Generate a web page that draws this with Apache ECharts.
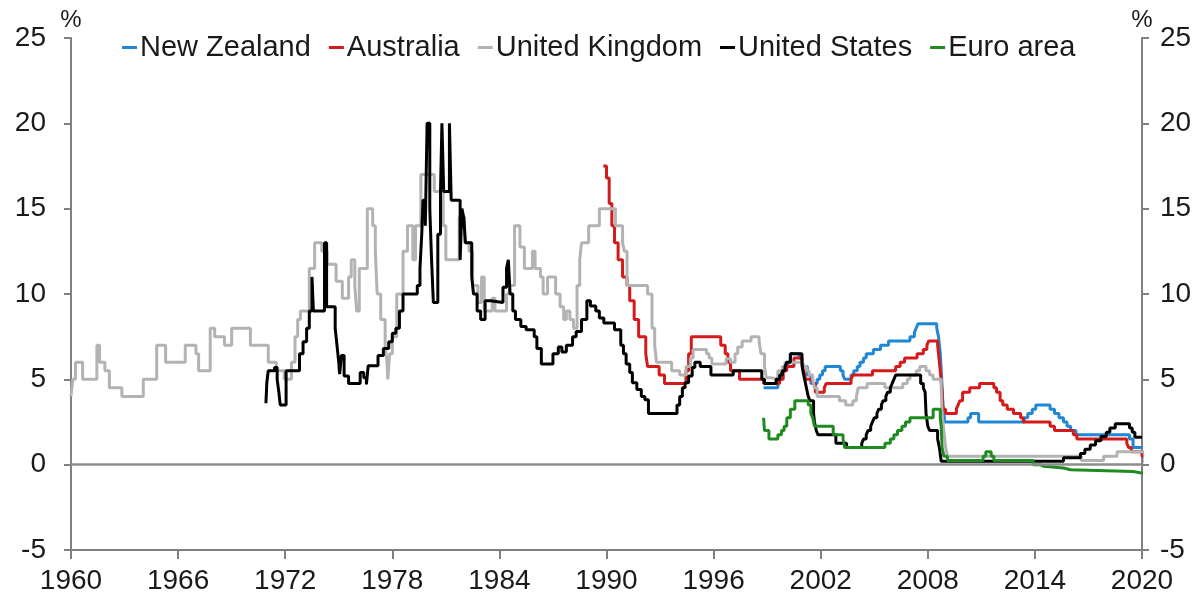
<!DOCTYPE html>
<html>
<head>
<meta charset="utf-8">
<script src="https://cdn.jsdelivr.net/npm/echarts@6/dist/echarts.min.js"></script>
<style>
html,body{margin:0;padding:0;background:#fff;}
#chart{width:1201px;height:601px;}
</style>
</head>
<body>
<div id="chart"></div>
<script>
// ---- Data: [year, policy rate %] change points (value holds until next point) ----
const seriesNames = ['New Zealand', 'Australia', 'United Kingdom', 'United States', 'Euro area'];
const xTicks = [1960, 1966, 1972, 1978, 1984, 1990, 1996, 2002, 2008, 2014, 2020];
const yTicks = [-5, 0, 5, 10, 15, 20, 25];

const newZealand = [
  [1998.8,4.5],[1999.6,5.0],[1999.8,5.5],[2000.0,5.75],[2000.15,6.0],[2000.3,6.5],[2000.8,6.25],
  [2000.95,6.0],[2001.05,5.75],[2001.25,5.25],[2001.45,4.75],[2001.8,5.0],[2001.95,5.25],[2002.1,5.5],
  [2002.25,5.75],[2003.1,5.5],[2003.25,5.25],[2003.35,5.0],[2003.7,5.25],[2003.85,5.5],[2004.05,5.75],
  [2004.2,6.0],[2004.4,6.25],[2004.55,6.5],[2004.95,6.75],[2005.35,7.0],[2005.8,7.25],[2007.0,7.5],
  [2007.25,7.75],[2007.35,8.0],[2007.45,8.25],[2008.5,8.0],[2008.6,7.5],[2008.7,6.5],[2008.78,5.0],
  [2008.85,3.5],[2008.9,3.0],[2008.95,2.5],[2010.25,2.75],[2010.4,3.0],[2010.85,2.5],[2013.4,2.75],
  [2013.6,3.0],[2013.85,3.25],[2014.05,3.5],[2014.85,3.25],[2015.1,3.0],[2015.35,2.75],[2015.6,2.5],
  [2015.8,2.25],[2016.0,2.0],[2016.3,1.75],[2019.3,1.5],[2019.5,1.0],[2020.05,1.0]
];

const australia = [
  [1989.82,17.5],[1990.0,16.8],[1990.15,15.3],[1990.3,14.0],[1990.45,13.0],[1990.65,12.0],[1990.9,11.0],
  [1991.15,10.5],[1991.3,9.6],[1991.55,8.5],[1991.8,7.5],[1992.2,6.5],[1992.3,5.75],[1992.95,5.25],
  [1993.25,4.75],[1994.45,5.5],[1994.6,6.5],[1994.75,7.5],[1996.4,7.0],[1996.65,6.5],[1996.8,6.0],
  [1996.95,5.5],[1997.45,5.0],[1998.8,4.75],[1999.7,5.0],[1999.9,5.5],[2000.1,5.75],[2000.5,6.25],
  [2000.95,5.75],[2001.05,5.5],[2001.15,5.0],[2001.55,4.75],[2001.7,4.25],[2002.2,4.5],[2002.3,4.75],
  [2003.7,5.0],[2003.8,5.25],[2004.9,5.5],[2006.2,5.75],[2006.45,6.0],[2006.7,6.25],[2007.4,6.5],
  [2007.75,6.75],[2007.95,7.0],[2008.05,7.25],[2008.55,7.0],[2008.65,6.0],[2008.72,5.25],[2008.8,4.25],
  [2008.85,3.25],[2009.0,3.0],[2009.6,3.25],[2009.7,3.5],[2009.8,3.75],[2009.95,4.25],[2010.35,4.5],
  [2010.9,4.75],[2011.7,4.5],[2011.85,4.25],[2012.05,3.75],[2012.2,3.5],[2012.45,3.25],[2012.8,3.0],
  [2013.2,2.75],[2013.35,2.5],[2014.85,2.25],[2015.1,2.0],[2016.15,1.75],[2016.35,1.5],[2019.15,1.25],
  [2019.25,1.0],[2019.4,0.75],[2020.0,0.5],[2020.1,0.5]
];

const unitedKingdom = [
  [1960.0,4.0],[1960.1,5.0],[1960.25,6.0],[1960.65,5.0],[1961.45,7.0],[1961.6,6.0],[1961.9,5.5],
  [1962.15,4.5],[1962.85,4.0],[1964.05,5.0],[1964.8,7.0],[1965.3,6.0],[1966.4,7.0],[1967.0,6.5],
  [1967.15,5.5],[1967.8,8.0],[1968.05,7.5],[1968.6,7.0],[1969.0,8.0],[1970.05,7.0],[1971.05,6.0],
  [1971.5,5.5],[1971.95,5.0],[1972.35,6.0],[1972.55,7.5],[1972.7,8.5],[1972.85,9.0],[1973.35,11.5],
  [1973.65,13.0],[1974.05,12.5],[1974.35,11.75],[1974.85,10.75],[1975.2,9.75],[1975.55,11.0],
  [1975.7,12.0],[1975.9,10.5],[1976.0,9.0],[1976.15,11.5],[1976.6,15.0],[1976.9,14.0],[1977.05,12.5],
  [1977.15,10.0],[1977.35,8.5],[1977.6,7.0],[1977.7,6.0],[1977.75,5.0],[1977.85,6.5],[1978.0,7.5],
  [1978.25,10.0],[1978.6,12.5],[1978.85,14.0],[1979.15,12.0],[1979.3,14.0],[1979.6,17.0],[1980.35,16.0],
  [1980.85,14.0],[1981.0,12.0],[1981.75,14.5],[1982.05,13.0],[1982.3,12.5],[1982.5,10.5],[1982.8,9.5],
  [1983.0,11.0],[1983.15,9.0],[1983.6,9.75],[1983.75,9.0],[1984.4,10.0],[1984.55,10.5],[1984.85,14.0],
  [1985.15,12.75],[1985.4,11.5],[1985.85,12.5],[1986.0,11.5],[1986.3,11.0],[1986.45,10.0],[1986.7,11.0],
  [1987.15,10.0],[1987.4,9.25],[1987.6,8.5],[1987.75,9.0],[1987.95,8.5],[1988.15,8.0],[1988.35,10.5],
  [1988.5,12.0],[1988.6,13.0],[1989.0,14.0],[1989.6,15.0],[1990.5,14.0],[1990.9,13.0],[1991.0,12.5],
  [1991.15,10.5],[1992.3,10.0],[1992.55,8.0],[1992.7,7.0],[1992.8,6.0],[1993.65,5.5],[1994.1,5.25],
  [1994.45,5.75],[1994.7,6.25],[1994.85,6.75],[1995.6,6.5],[1995.75,6.25],[1995.9,5.9],[1996.7,6.2],
  [1996.95,6.0],[1997.2,6.5],[1997.35,6.9],[1997.6,7.25],[1998.1,7.5],[1998.55,7.25],[1998.65,6.5],
  [1998.85,5.75],[1998.95,5.1],[1999.2,5.0],[1999.6,5.5],[1999.85,5.75],[2000.0,6.0],[2001.0,5.75],
  [2001.2,5.5],[2001.35,5.25],[2001.55,5.0],[2001.65,4.5],[2001.8,4.0],[2003.05,3.75],[2003.4,3.5],
  [2003.8,3.75],[2004.0,4.0],[2004.1,4.5],[2004.6,4.75],[2005.6,4.5],[2006.6,4.75],[2006.85,5.0],
  [2007.0,5.25],[2007.35,5.5],[2007.55,5.75],[2007.9,5.5],[2008.1,5.25],[2008.3,5.0],[2008.75,4.5],
  [2008.8,3.0],[2008.9,2.0],[2008.95,1.5],[2009.0,1.0],[2009.1,0.5],[2016.6,0.25],[2017.85,0.5],
  [2018.6,0.75],[2020.15,0.1],[2020.2,0.1]
];

const unitedStates = [
  [1970.92,3.6],[1970.97,4.8],[1971.05,5.5],[1971.4,5.7],[1971.55,5.0],[1971.65,4.2],[1971.72,3.5],
  [1972.05,5.5],[1972.8,6.5],[1973.0,7.2],[1973.2,8.0],[1973.35,9.0],[1973.5,11.0],[1973.58,9.0],
  [1974.2,13.0],[1974.32,9.25],[1974.8,8.0],[1974.9,7.0],[1975.0,6.0],[1975.05,5.3],[1975.15,6.4],
  [1975.3,5.2],[1975.55,4.75],[1976.2,5.4],[1976.4,5.1],[1976.55,4.7],[1976.65,5.8],[1977.2,6.4],
  [1977.5,6.8],[1977.8,7.2],[1978.0,7.7],[1978.2,8.0],[1978.4,9.0],[1978.6,10.0],[1979.4,10.5],
  [1979.55,11.5],[1979.65,13.5],[1979.72,15.5],[1979.85,14.0],[1979.95,20.0],[1980.1,15.0],
  [1980.2,12.0],[1980.3,9.5],[1980.55,13.5],[1980.7,16.0],[1980.78,20.0],[1980.88,16.0],[1981.2,20.0],
  [1981.3,15.5],[1981.8,12.0],[1981.9,15.0],[1982.0,14.5],[1982.1,13.0],[1982.45,11.0],[1982.55,10.0],
  [1982.75,9.0],[1982.95,8.5],[1983.2,9.6],[1983.5,9.5],[1984.2,10.4],[1984.4,11.5],[1984.5,12.0],
  [1984.6,10.0],[1984.75,9.0],[1984.9,8.5],[1985.2,8.1],[1985.5,7.9],[1985.95,7.5],[1986.1,6.8],
  [1986.35,5.9],[1987.0,6.5],[1987.3,6.9],[1987.5,6.6],[1987.75,7.0],[1988.1,7.5],[1988.3,7.8],
  [1988.6,8.5],[1988.9,9.6],[1989.1,9.3],[1989.4,9.0],[1989.6,8.6],[1989.85,8.3],[1990.45,7.9],
  [1990.8,7.0],[1990.95,6.5],[1991.1,5.9],[1991.3,5.4],[1991.45,4.8],[1991.7,4.4],[1991.95,4.0],
  [1992.15,3.8],[1992.35,3.0],[1993.95,3.5],[1994.1,4.0],[1994.25,4.5],[1994.4,4.8],[1994.6,5.2],
  [1994.8,5.7],[1994.95,6.0],[1995.25,5.75],[1995.85,5.25],[1997.1,5.5],[1998.7,5.0],[1998.85,4.75],
  [1999.5,5.0],[1999.7,5.25],[1999.85,5.5],[2000.0,5.75],[2000.1,6.0],[2000.3,6.5],[2000.95,6.0],
  [2001.0,5.5],[2001.1,5.0],[2001.2,4.5],[2001.3,4.0],[2001.4,3.75],[2001.6,3.0],[2001.65,2.5],
  [2001.75,2.0],[2001.85,1.75],[2002.85,1.25],[2003.45,1.0],[2004.3,1.25],[2004.4,1.5],[2004.55,1.75],
  [2004.65,2.0],[2004.8,2.25],[2004.9,2.5],[2005.0,2.75],[2005.15,3.0],[2005.25,3.25],[2005.4,3.5],
  [2005.5,3.75],[2005.65,4.0],[2005.75,4.25],[2005.9,4.5],[2006.0,4.75],[2006.1,5.0],[2006.2,5.25],
  [2007.6,4.75],[2007.75,4.5],[2007.85,4.25],[2007.9,3.0],[2008.0,2.25],[2008.1,2.0],[2008.55,1.5],
  [2008.65,1.0],[2008.75,0.2],[2015.6,0.4],[2016.55,0.65],[2016.8,0.9],[2017.1,1.15],[2017.4,1.4],
  [2017.7,1.65],[2018.0,1.9],[2018.2,2.15],[2018.5,2.4],[2019.3,2.15],[2019.45,1.9],[2019.6,1.6],
  [2020.0,1.6]
];

const euroArea = [
  [1998.8,2.75],[1998.85,2.0],[1999.1,1.5],[1999.6,1.75],[1999.8,2.0],[1999.95,2.25],[2000.1,2.75],
  [2000.3,3.25],[2000.55,3.75],[2001.3,3.5],[2001.45,3.0],[2001.55,2.75],[2001.65,2.25],[2002.7,1.75],
  [2003.25,1.5],[2003.35,1.0],[2005.6,1.25],[2005.9,1.5],[2006.1,1.75],[2006.3,2.0],[2006.55,2.25],
  [2006.75,2.5],[2007.0,2.75],[2008.3,3.25],[2008.7,2.75],[2008.75,2.25],[2008.8,1.0],[2008.9,0.5],
  [2009.1,0.25],[2011.1,0.5],[2011.25,0.75],[2011.55,0.5],[2011.7,0.25],[2013.9,0.0],[2014.3,-0.1],
  [2014.5,-0.2],[2015.6,-0.3],[2016.0,-0.4],[2019.5,-0.5],[2020.05,-0.5]
];

const seriesData = [newZealand, australia, unitedKingdom, unitedStates, euroArea];
const seriesColors = ['#1f87d6', '#d41a1a', '#b3b3b3', '#000000', '#1f8a1f'];

const FONT = '"Liberation Sans", Arial, sans-serif';
const chart = echarts.init(document.getElementById('chart'), null, {renderer: 'canvas'});

const lineSeries = seriesNames.map((name, i) => ({
  name: name,
  type: 'line',
  step: 'end',
  data: seriesData[i],
  showSymbol: false,
  symbol: 'none',
  z: 3,
  lineStyle: {color: seriesColors[i], width: 3},
  itemStyle: {color: seriesColors[i]},
  animation: false
}));

const yAxisCommon = {
  type: 'value',
  min: yTicks[0],
  max: yTicks[yTicks.length - 1],
  interval: 5,
  name: '%',
  nameLocation: 'end',
  nameGap: 6,
  nameTextStyle: {color: '#1a1a1a', fontSize: 24, fontFamily: FONT, align: 'center'},
  axisLine: {show: true, lineStyle: {color: '#808080', width: 2}},
  axisTick: {show: true, inside: false, length: 7, lineStyle: {color: '#808080', width: 2}},
  axisLabel: {color: '#1a1a1a', fontSize: 28, fontFamily: FONT, margin: 22},
  splitLine: {show: false}
};

chart.setOption({
  animation: false,
  backgroundColor: '#ffffff',
  grid: {left: 71, right: 59, top: 38, bottom: 51, containLabel: false},
  legend: {
    data: seriesNames,
    top: 28,
    left: 117,
    itemWidth: 15,
    itemHeight: 3,
    itemGap: 18,
    icon: 'rect',
    textStyle: {color: '#1a1a1a', fontSize: 29, fontFamily: FONT, padding: [0, 0, 0, -2]}
  },
  xAxis: {
    type: 'value',
    min: xTicks[0],
    max: xTicks[xTicks.length - 1],
    interval: 6,
    axisLine: {show: true, onZero: false, lineStyle: {color: '#808080', width: 2}},
    axisTick: {show: true, length: 9, lineStyle: {color: '#808080', width: 2}},
    axisLabel: {color: '#1a1a1a', fontSize: 28, fontFamily: FONT, margin: 17, formatter: v => String(v)},
    splitLine: {show: false}
  },
  yAxis: [
    Object.assign({}, yAxisCommon, {position: 'left', axisLabel: Object.assign({}, yAxisCommon.axisLabel, {margin: 25})}),
    Object.assign({}, yAxisCommon, {position: 'right', axisLabel: Object.assign({}, yAxisCommon.axisLabel, {margin: 18})})
  ],
  series: [
    {
      name: 'zero',
      type: 'line',
      data: [],
      z: 1,
      silent: true,
      markLine: {
        silent: true,
        symbol: ['none', 'none'],
        label: {show: false},
        lineStyle: {color: '#8c8c8c', width: 2.5, type: 'solid'},
        data: [{yAxis: 0}]
      }
    }
  ].concat(lineSeries)
});
</script>
</body>
</html>
